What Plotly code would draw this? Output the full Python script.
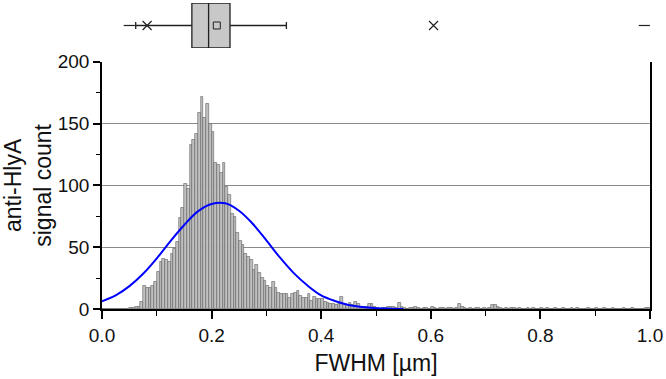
import plotly.graph_objects as go

# ---- histogram data (bin width 0.005 µm, bins starting at 0.0) ----
bin_width = 0.005
counts = (
    [0] * 10 +
    # 0.050 .. 0.135
    [1, 1, 2, 2, 6, 19, 17, 17, 19, 22, 30, 38, 41, 40, 38, 45, 49, 54] +
    # 0.140 .. 0.200
    [74, 82, 101, 97, 133, 137, 142, 159, 172, 155, 166, 150, 143] +
    # 0.205 .. 0.300
    [118, 117, 110, 118, 99, 92, 77, 75, 62, 55, 52, 45, 42, 40, 32, 36, 29, 25, 23, 19] +
    # 0.305 .. 0.375
    [17, 22, 17, 13, 12, 12, 12, 9, 12, 13, 15, 11, 9, 9, 12] +
    # 0.380 .. 0.500
    [7, 10, 8, 8, 8, 6, 5, 4, 4, 3, 4, 10, 4, 3, 5, 3, 6, 4, 2, 2, 2, 4, 4, 2, 1] +
    # 0.505 .. 0.600
    [0, 1, 1, 2, 2, 2, 1, 5, 2, 1, 0, 1, 1, 2, 1, 0, 1, 1, 0, 2] +
    # 0.605 .. 0.700
    [1, 0, 1, 1, 0, 1, 1, 0, 1, 4, 2, 1, 0, 1, 0, 1, 1, 0, 1, 0] +
    # 0.705 .. 0.800
    [1, 3, 3, 2, 1, 0, 1, 0, 1, 1, 0, 1, 0, 0, 1, 0, 1, 0, 0, 1] +
    # 0.805 .. 0.900
    [0, 1, 0, 0, 1, 0, 0, 1, 0, 0, 1, 0, 1, 0, 0, 0, 1, 0, 0, 1] +
    # 0.905 .. 1.000
    [0, 0, 1, 0, 0, 1, 0, 0, 0, 1, 0, 0, 1, 0, 0, 0, 0, 1, 1, 0]
)
bin_centers = [bin_width * (i + 0.5) for i in range(len(counts))]

# ---- fitted normal curve ----
curve_x = [0.0, 0.025, 0.05, 0.075, 0.1, 0.125, 0.15, 0.175, 0.2, 0.225, 0.25,
           0.275, 0.3, 0.325, 0.35, 0.375, 0.4, 0.425, 0.45, 0.475, 0.5, 0.525, 0.55]
curve_y = [6.2, 11, 18.5, 28.5, 41, 55, 68, 79, 85, 85.5, 79.5,
           69, 55.5, 41.5, 29, 19, 11, 6.5, 3.3, 1.6, 0.7, 0.3, 0.1]

# ---- box-plot statistics ----
box_q1 = 0.164
box_median = 0.1945
box_q3 = 0.2336
box_whisker_low = 0.0615
box_whisker_high = 0.3365
box_mean = 0.2095
pct_1_99 = [0.0823, 0.605]
min_max = [0.0498, 0.9896]

x_tickvals = [0, 0.2, 0.4, 0.6, 0.8, 1.0]
x_ticktext = ["0.0", "0.2", "0.4", "0.6", "0.8", "1.0"]
y_tickvals = [0, 50, 100, 150, 200]
y_gridvals = [50, 100, 150]

FONT = "Liberation Sans, Arial, sans-serif"
INK = "#202020"

fig = go.Figure()

fig.add_trace(go.Bar(
    x=bin_centers, y=counts, width=bin_width,
    marker=dict(color="#c0c0c0", line=dict(color="#606060", width=0.6)),
    showlegend=False, hoverinfo="skip",
))

fig.add_trace(go.Scatter(
    x=curve_x, y=curve_y, mode="lines",
    line=dict(color="#0000ff", width=2, shape="spline"),
    showlegend=False, hoverinfo="skip",
))

fig.add_trace(go.Box(
    orientation="h", y=[0],
    q1=[box_q1], median=[box_median], q3=[box_q3],
    lowerfence=[box_whisker_low], upperfence=[box_whisker_high],
    width=1, whiskerwidth=0.16,
    fillcolor="#c8c8c8", line=dict(color=INK, width=1.3),
    boxpoints=False, yaxis="y2", showlegend=False, hoverinfo="skip",
))

fig.add_trace(go.Scatter(
    x=[box_mean], y=[0], mode="markers", yaxis="y2",
    marker=dict(symbol="square", size=7, color="#c8c8c8",
                line=dict(color=INK, width=1)),
    showlegend=False, hoverinfo="skip",
))
fig.add_trace(go.Scatter(
    x=pct_1_99, y=[0, 0], mode="markers", yaxis="y2",
    marker=dict(symbol="x-thin-open", size=9, color=INK,
                line=dict(color=INK, width=1.2)),
    showlegend=False, hoverinfo="skip",
))
fig.add_trace(go.Scatter(
    x=min_max, y=[0, 0], mode="markers", yaxis="y2",
    marker=dict(symbol="line-ew-open", size=8, color=INK,
                line=dict(color=INK, width=1.2)),
    showlegend=False, hoverinfo="skip",
))

# dummy invisible trace so the grid-only axis is drawn
fig.add_trace(go.Scatter(x=[None], y=[None], yaxis="y3", showlegend=False,
                         hoverinfo="skip"))

fig.update_layout(
    width=666, height=379,
    margin=dict(l=102, r=16, t=0, b=70, pad=0, autoexpand=False),
    paper_bgcolor="white", plot_bgcolor="white",
    bargap=0,
    font=dict(family=FONT, size=19, color="#111111"),
    xaxis=dict(
        range=[0, 1], tickvals=x_tickvals, ticktext=x_ticktext,
        showline=True, linecolor="black", linewidth=1.5,
        ticks="outside", ticklen=8, tickwidth=1.5, tickcolor="black",
        minor=dict(dtick=0.1, ticks="outside", ticklen=5, tickwidth=1.2, tickcolor="black"),
        showgrid=False, zeroline=False, automargin=False,
        title=dict(text="FWHM [µm]", standoff=10),
    ),
    yaxis=dict(
        domain=[0, 0.80], range=[0, 200], tickvals=y_tickvals,
        showline=True, mirror=True, linecolor="black", linewidth=1.5,
        ticks="outside", ticklen=7, tickwidth=1.5, tickcolor="black",
        minor=dict(dtick=25, ticks="outside", ticklen=4, tickwidth=1.2,
                   tickcolor="black", showgrid=False),
        showgrid=False, zeroline=False, automargin=False,
        title=dict(text="anti-HlyA<br>signal count", standoff=12),
    ),
    # overlay axis that only carries the interior grid lines (50, 100, 150)
    yaxis3=dict(
        domain=[0, 0.80], range=[0, 200], overlaying="y", anchor="x",
        tickvals=y_gridvals, showticklabels=False, ticks="",
        showgrid=True, gridcolor="#8a8a8a", gridwidth=1, automargin=False,
        showline=False, zeroline=False, layer="below traces",
    ),
    yaxis2=dict(
        domain=[0.845, 0.99], range=[-0.5, 0.5], anchor="x", automargin=False,
        showline=False, showticklabels=False, showgrid=False, zeroline=False,
        ticks="",
    ),
)

fig.write_html("out.html", config={"displayModeBar": False},
               post_script="document.body.style.margin='0';document.body.style.overflow='hidden';")
